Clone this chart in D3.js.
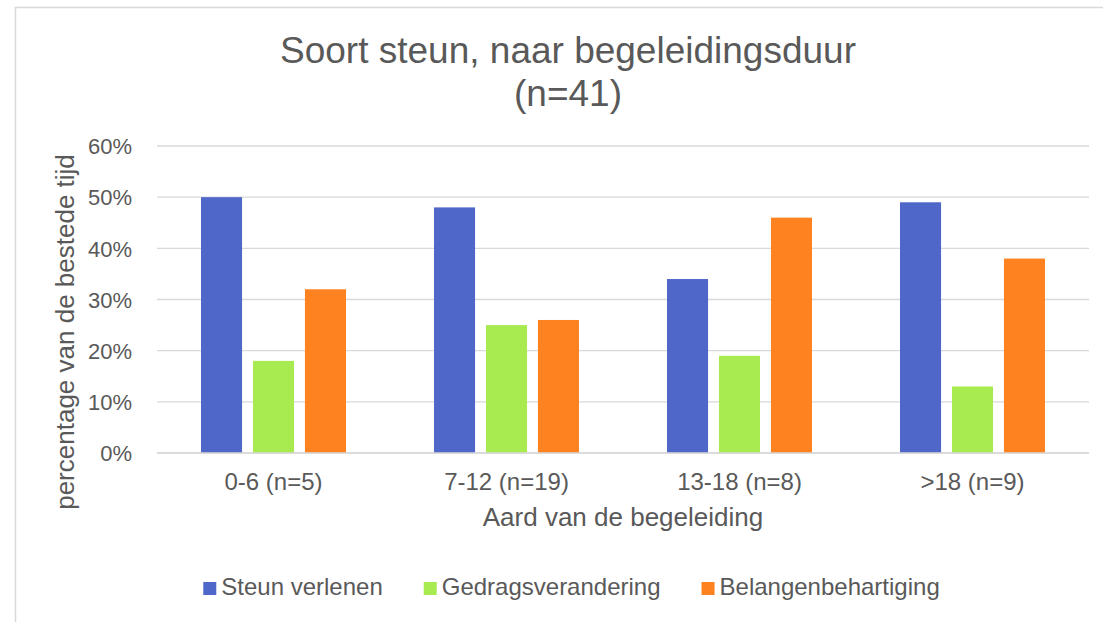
<!DOCTYPE html>
<html>
<head>
<meta charset="utf-8">
<script src="https://cdn.jsdelivr.net/npm/d3@7"></script>
<style>
  html, body { margin: 0; padding: 0; background: #fff; }
  svg { display: block; }
  text { font-family: "Liberation Sans", Arial, sans-serif; fill: #595959; }
</style>
</head>
<body>
<svg id="chart" width="1103" height="622"></svg>
<script>
const categories = ["0-6 (n=5)", "7-12 (n=19)", "13-18 (n=8)", ">18 (n=9)"];
const seriesNames = ["Steun verlenen", "Gedragsverandering", "Belangenbehartiging"];
const steunVerlenen = [50, 48, 34, 49];
const gedragsverandering = [18, 25, 19, 13];
const belangenbehartiging = [32, 26, 46, 38];
const yTicks = [0, 10, 20, 30, 40, 50, 60];
const colors = ["#4F67C8", "#A8EB50", "#FF8221"];
const titleLines = ["Soort steun, naar begeleidingsduur", "(n=41)"];
const xTitle = "Aard van de begeleiding";
const yTitle = "percentage van de bestede tijd";

const seriesValues = [steunVerlenen, gedragsverandering, belangenbehartiging];

const svg = d3.select("#chart");

// chart frame
svg.append("rect")
  .attr("x", 15.5).attr("y", 7.5)
  .attr("width", 1200).attr("height", 700)
  .attr("fill", "none").attr("stroke", "#D9D9D9").attr("stroke-width", 1.5);

const plot = { left: 157, right: 1089, top: 146, bottom: 453 };

const x0 = d3.scaleBand().domain(categories).range([plot.left, plot.right]).padding(0);
const x1 = d3.scaleBand().domain(seriesNames)
  .range([44, x0.bandwidth() - 44]).paddingInner(0.21).paddingOuter(0);
const y = d3.scaleLinear().domain([0, 60]).range([plot.bottom, plot.top]);

// gridlines
svg.append("g").selectAll("line").data(yTicks).join("line")
  .attr("x1", plot.left).attr("x2", plot.right)
  .attr("y1", d => y(d)).attr("y2", d => y(d))
  .attr("stroke", "#D9D9D9").attr("stroke-width", 1.3);

// y axis labels
const yAxis = d3.axisLeft(y).tickValues(yTicks).tickFormat(d => d + "%").tickSize(0).tickPadding(0);
const gy = svg.append("g").attr("transform", `translate(132,0)`).call(yAxis);
gy.select(".domain").remove();
gy.selectAll("text").style("font-size", "22px").attr("fill", "#595959")
  .attr("font-family", "Liberation Sans, Arial, sans-serif").attr("dy", "0.35em");

// bars
const groups = svg.append("g").selectAll("g").data(categories).join("g")
  .attr("transform", d => `translate(${x0(d)},0)`);
groups.selectAll("rect")
  .data((c, i) => seriesNames.map((s, j) => ({ s, v: seriesValues[j][i], j })))
  .join("rect")
  .attr("x", d => x1(d.s))
  .attr("width", x1.bandwidth())
  .attr("y", d => y(d.v))
  .attr("height", d => y(0) - y(d.v))
  .attr("fill", d => colors[d.j]);

// baseline axis
svg.append("line")
  .attr("x1", plot.left).attr("x2", plot.right)
  .attr("y1", y(0)).attr("y2", y(0))
  .attr("stroke", "#D9D9D9").attr("stroke-width", 1.5);

// x axis labels
const xAxis = d3.axisBottom(x0).tickSize(0).tickPadding(0);
const gx = svg.append("g").attr("transform", `translate(0,490)`).call(xAxis);
gx.select(".domain").remove();
gx.selectAll("text").style("font-size", "24px").attr("fill", "#595959")
  .attr("font-family", "Liberation Sans, Arial, sans-serif").attr("dy", 0).attr("y", 0);

// title
svg.append("text").attr("x", 568).attr("y", 63).attr("text-anchor", "middle")
  .style("font-size", "37px").text(titleLines[0]);
svg.append("text").attr("x", 568).attr("y", 106).attr("text-anchor", "middle")
  .style("font-size", "37px").text(titleLines[1]);

// axis titles
svg.append("text").attr("x", (plot.left + plot.right) / 2).attr("y", 526)
  .attr("text-anchor", "middle").style("font-size", "26px").text(xTitle);
svg.append("text").attr("transform", "translate(74,332) rotate(-90)")
  .attr("text-anchor", "middle").style("font-size", "26px").text(yTitle);

// legend
const legend = svg.append("g");
const items = legend.selectAll("g").data(seriesNames).join("g");
items.append("rect").attr("width", 13).attr("height", 13).attr("y", -13)
  .attr("fill", (d, i) => colors[i]);
items.append("text").attr("x", 18).attr("y", 0).style("font-size", "24px").text(d => d);
let offset = 0;
items.each(function () {
  const w = this.querySelector("text").getComputedTextLength() + 18;
  d3.select(this).attr("data-w", w);
});
const widths = items.nodes().map(n => +n.getAttribute("data-w"));
const gap = 41;
const total = d3.sum(widths) + gap * (widths.length - 1);
let cx = 571.5 - total / 2;
items.attr("transform", (d, i) => {
  const t = `translate(${cx},595)`;
  cx += widths[i] + gap;
  return t;
});
</script>
</body>
</html>
